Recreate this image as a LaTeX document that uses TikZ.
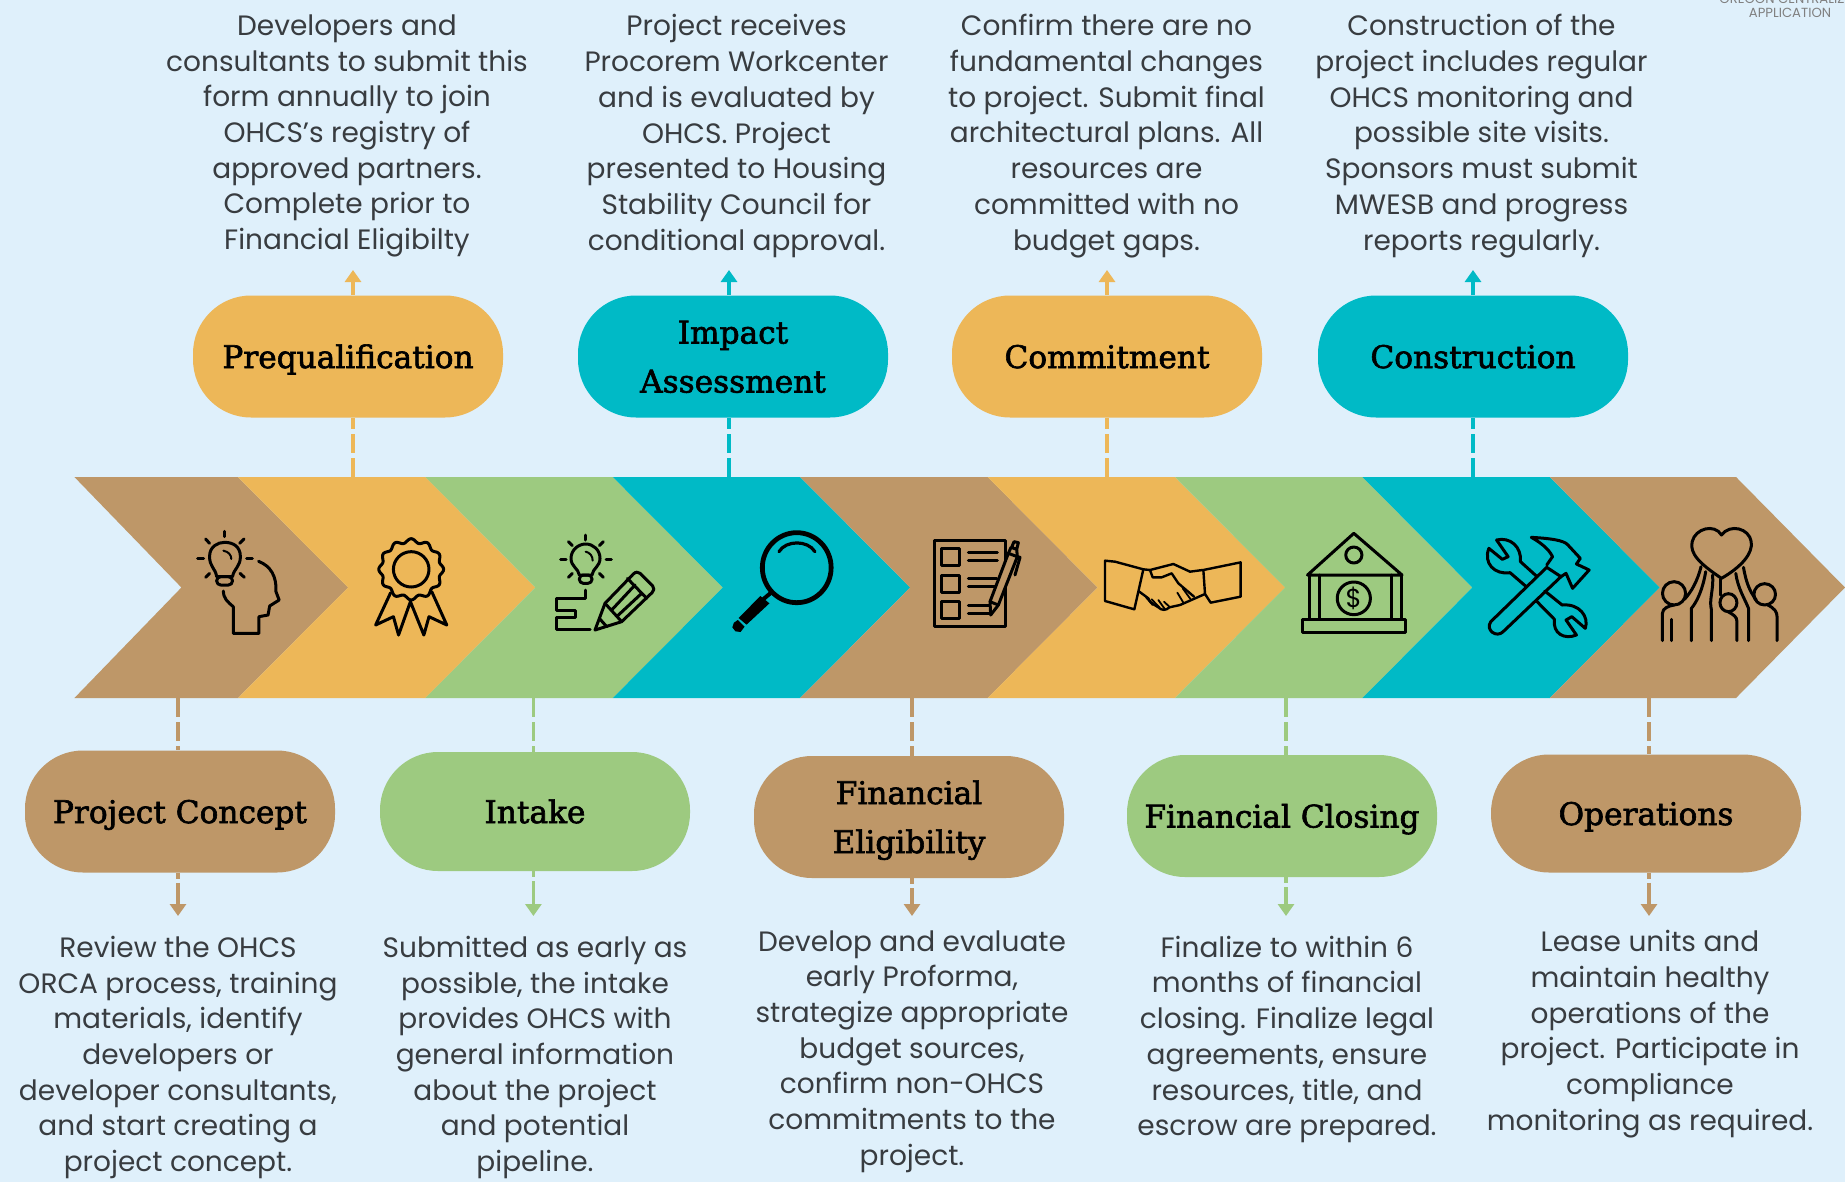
\documentclass[tikz,border=0pt]{standalone}
\usepackage{fontspec}
\setmainfont{Poppins}
\newfontfamily\pillfont[FakeBold=2]{DejaVu Serif}
\newcommand\pl[1]{\rule{0pt}{15pt}\vphantom{g}#1}
\definecolor{bgc}{HTML}{DFF0FB}
\definecolor{brownc}{HTML}{BE9768}
\definecolor{orangec}{HTML}{EDB758}
\definecolor{greenc}{HTML}{9DCA80}
\definecolor{tealc}{HTML}{00BAC6}
\definecolor{bodyc}{HTML}{383C40}
\usetikzlibrary{arrows.meta}
\tikzset{
 pill/.style={rectangle,rounded corners=29pt,minimum width=155pt,minimum height=#1,inner sep=0pt,align=center,text=black,
   font=\pillfont\fontsize{15.6}{24.5}\selectfont},
 pill/.default=61pt,
 bodytext/.style={align=center,text=bodyc,inner sep=0pt,font=\fontsize{14}{17.85}\selectfont},
 dashlink/.style={draw=#1,line width=1.8pt,dash pattern=on 9.5pt off 2.6pt},
 arrowlink/.style={draw=#1,line width=1.8pt,dash pattern=on 13pt off 2pt,-{Triangle[width=8pt,length=6pt]}},
 ic/.style={line width=1.5pt,draw=black,line cap=round,line join=round,fill=none},
 zA/.style={shift={(#1,460)},x=0.1977pt,y=-0.16667pt},
 zB/.style={shift={(1240,460)},x=0.1929pt,y=-0.16667pt},
 zC/.style={shift={#1},x=0.16667pt,y=-0.16667pt},
}
\begin{document}
\begin{tikzpicture}[x=0.5pt,y=-0.5pt]
\useasboundingbox (0,0) rectangle (1845,1182);
\clip (0,0) rectangle (1845,1182);
\fill[bgc] (0,0) rectangle (1845,1182);

% chevrons
\def\T{477}\def\B{698}\def\M{587.5}
\foreach \a/\b/\c in {74.4/238/brownc,238/425.4/orangec,425.4/612.8/greenc,612.8/800.2/tealc,800.2/987.6/brownc,987.6/1175/orangec,1175/1362.4/greenc,1362.4/1549.8/tealc}{
 \pgfmathsetmacro\an{\a+(\a<100?107:110)}
 \pgfmathsetmacro\bn{\b+110}
 \fill[\c] (\a,\T)--(\b,\T)--(\bn,\M)--(\b,\B)--(\a,\B)--(\an,\M)--cycle;
}
\fill[brownc] (1549.8,\T)--(1736,\T)--(1845,\M)--(1736,\B)--(1549.8,\B)--(1659.8,\M)--cycle;

% pills
\node[pill,fill=orangec] (pre) at (348,356.5) {\pl{Prequalification}};
\node[pill,fill=tealc] (imp) at (733,356.5) {\pl{Impact}\\\pl{Assessment}};
\node[pill,fill=orangec] (com) at (1107,356.5) {\pl{Commitment}};
\node[pill,fill=tealc] (con) at (1473,356.5) {\pl{Construction}};
\node[pill,fill=brownc] (prj) at (180,811.5) {\pl{Project Concept}};
\node[pill=59.5pt,fill=greenc] (int) at (535,811.5) {\pl{Intake}};
\node[pill,fill=brownc] (fin) at (909,817) {\pl{Financial}\\\pl{Eligibility}};
\node[pill,fill=greenc] (clo) at (1282,816) {\pl{Financial Closing}};
\node[pill=59pt,fill=brownc] (ope) at (1646,813.5) {\pl{Operations}};

% text blocks
\node[bodytext] (t1) at (347,136) {Developers and\\consultants to submit this\\form annually to join\\OHCS’s registry of\\approved partners.\\Complete prior to\\Financial Eligibilty};
\node[bodytext] (t2) at (736.5,136) {Project receives\\Procorem Workcenter\\and is evaluated by\\OHCS. Project\\presented to Housing\\Stability Council for\\conditional approval.};
\node[bodytext] (t3) at (1106.5,136) {Confirm there are no\\fundamental changes\\to project. Submit final\\architectural plans. All\\resources are\\committed with no\\budget gaps.};
\node[bodytext] (t4) at (1481.5,136) {Construction of the\\project includes regular\\OHCS monitoring and\\possible site visits.\\Sponsors must submit\\MWESB and progress\\reports regularly.};
\node[bodytext] (b1) at (178,1057.5) {Review the OHCS\\ORCA process, training\\materials, identify\\developers or\\developer consultants,\\and start creating a\\project concept.};
\node[bodytext] (b2) at (535,1057.5) {Submitted as early as\\possible, the intake\\provides OHCS with\\general information\\about the project\\and potential\\pipeline.};
\node[bodytext] (b3) at (912,1051.5) {Develop and evaluate\\early Proforma,\\strategize appropriate\\budget sources,\\confirm non-OHCS\\commitments to the\\project.};
\node[bodytext] (b4) at (1287,1039.5) {Finalize to within 6\\months of financial\\closing. Finalize legal\\agreements, ensure\\resources, title, and\\escrow are prepared.};
\node[bodytext] (b5) at (1650,1034) {Lease units and\\maintain healthy\\operations of the\\project. Participate in\\compliance\\monitoring as required.};
\node[align=center,text=black!50,inner sep=0pt,font=\fontsize{6.6}{7.2}\selectfont] (logo) at (1790,6) {OREGON CENTRALIZED\\APPLICATION};

% connectors
\foreach \n/\px/\c in {pre/353/orangec,imp/729/tealc,com/1107/orangec,con/1473/tealc}{
 \coordinate (c\n) at (\px,\T);
 \coordinate (a\n) at (\px,270);
 \draw[dashlink=\c] (c\n) -- (c\n |- \n.south);
 \draw[draw=\c,line width=1.8pt,-{Triangle[width=8pt,length=6pt]}] (c\n |- \n.north) -- (a\n);
}
\foreach \n/\px/\c in {prj/178/brownc,int/533.4/greenc,fin/912/brownc,clo/1286/greenc,ope/1649/brownc}{
 \coordinate (c\n) at (\px,\B);
 \coordinate (a\n) at (\px,916);
 \draw[dashlink=\c] (c\n) -- (c\n |- \n.north);
 \draw[arrowlink=\c,dash pattern=on 3pt off 2pt on 20pt off 0pt] (c\n |- \n.south) -- (a\n);
}

% icon 1: head with bulb
\begin{scope}[zA=0]
 \draw[ic] (548,350) .. controls (545,325) and (530,320) .. (530,290) .. controls (530,260) and (550,247) .. (568,247) .. controls (590,247) and (608,260) .. (608,290) .. controls (608,320) and (592,325) .. (588,350) -- cycle;
 \draw[ic,rounded corners=2pt] (548,350) rectangle (588,375);
 \draw[ic,line width=1pt] (565,272) .. controls (578,275) and (585,285) .. (585,297);
 \foreach \p/\q in {{(568,214)}/{(568,230)},{(520,237)}/{(530,250)},{(617,237)}/{(606,250)},{(500,294)}/{(515,294)},{(624,294)}/{(638,294)},{(520,352)}/{(530,340)},{(618,352)}/{(607,340)}}
  \draw[ic] \p -- \q;
 \draw[ic] (654,304) .. controls (685,318) and (700,350) .. (698,395) -- (706,420) -- (682,438) -- (678,465) -- (655,470) -- (655,520) -- (590,520) -- (590,440) .. controls (575,425) and (565,415) .. (565,393);
\end{scope}
% icon 2: award
\begin{scope}[zA=0]
 \draw[ic] plot[domain=0:360,samples=145,smooth] ({1040+(78+4*cos(12*\x))*cos(\x)},{328+(86+6*cos(12*\x))*sin(\x)});
 \draw[ic] (1040,328) ellipse [x radius=45,y radius=53];
 \draw[ic] (988,398)--(950,495)--(995,470)--(1008,525)--(1038,425)--(1072,525)--(1085,470)--(1130,495)--(1092,395);
\end{scope}
% icon 3: idea + pencil
\begin{scope}[zC={(540,530)}]
 \draw[ic] (118,135) .. controls (115,115) and (93,110) .. (93,85) .. controls (93,60) and (115,42) .. (137,42) .. controls (160,42) and (180,60) .. (180,85) .. controls (180,110) and (158,115) .. (156,135) -- cycle;
 \draw[ic,rounded corners=2pt] (118,135) rectangle (156,160);
 \draw[ic,line width=1pt] (137,65) .. controls (150,68) and (158,78) .. (158,92);
 \foreach \p/\q in {{(137,15)}/{(137,30)},{(85,35)}/{(97,47)},{(190,35)}/{(178,47)},{(62,88)}/{(78,88)},{(198,88)}/{(214,88)},{(85,142)}/{(97,130)},{(190,142)}/{(178,130)}}
  \draw[ic] \p -- \q;
 \draw[ic] (137,180)--(137,205)--(50,205)--(50,240)--(105,240)--(105,262)--(50,262)--(50,297)--(150,297);
 \draw[ic] (165,300)--(195,220)--(280,132) .. controls (287,125) and (295,125) .. (300,130) -- (338,168) .. controls (343,175) and (343,182) .. (336,188) -- (245,275) -- cycle;
 \draw[ic] (195,220)--(245,275) (215,240)--(285,165) (232,258)--(305,190) (262,145)--(320,205) (178,265)--(200,290);
\end{scope}
% icon 4: magnifier
\begin{scope}[zA=620]
 \draw[ic,line width=2.4pt] (447,323) ellipse [x radius=87,y radius=105];
 \draw[ic,line width=1.6pt] (402,275) .. controls (420,240) and (475,240) .. (493,275);
 \draw[ic,line width=2pt] (380,400)--(362,418);
 \fill[black] (355,408)--(378,430)--(320,494)--(300,474)--cycle;
 \fill[black] (288,488)--(298,480)--(315,500)--(305,516)--(292,514)--(284,502)--cycle;
\end{scope}
% icon 5: checklist
\begin{scope}[zC={(900,520)}]
 \draw[ic] (102,60) rectangle (315,318);
 \foreach \y in {85,165,243} \draw[ic] (125,\y) rectangle (178,\y+52);
 \draw[ic] (205,97)--(292,97) (205,122)--(292,122) (205,175)--(290,175) (205,200)--(285,200) (205,255)--(270,255) (205,280)--(270,280);
 \draw[ic,fill=brownc] (270,245)--(325,100)--(352,110)--(295,255)--(272,285)--cycle;
 \draw[ic] (270,245)--(295,255) (325,100)--(333,82)--(350,88)--(352,110) (335,82)--(342,65)--(355,68)--(350,88) (352,110)--(360,112)--(345,165);
\end{scope}
% icon 6: handshake
\begin{scope}[zC={(1090,520)}]
 \draw[ic,line width=1.2pt] (45,122)--(75,125)--(160,148)--(133,268)--(45,243)--cycle;
 \draw[ic,line width=1.2pt] (340,150)--(452,127)--(452,230)--(362,248)--(345,222)--cycle;
 \draw[ic,line width=1.2pt] (160,148)--(180,150)--(250,132)--(300,155)--(338,150);
 \draw[ic,line width=1.2pt] (180,150)--(188,172)--(215,172)--(245,160)--(265,190)--(312,230);
 \draw[ic,line width=1.2pt] (148,215)--(175,235) .. controls (180,250) and (195,255) .. (205,262) .. controls (215,272) and (228,272) .. (238,262) -- (270,255)--(345,222);
 \draw[ic,line width=.9pt] (168,232)--(188,255) (185,238)--(208,262) (205,240)--(225,268) (222,245)--(240,262) (262,218)--(280,248) (278,205)--(302,238);
\end{scope}
% icon 7: bank
\begin{scope}[zB]
 \draw[ic] (175,345)--(295,220)--(420,345)--cycle;
 \draw[ic] (295,285) ellipse [x radius=21,y radius=24];
 \draw[ic] (180,345)--(180,475) (205,345)--(205,475) (392,345)--(392,475) (418,345)--(418,475);
 \draw[ic] (163,478) rectangle (430,518);
 \draw[ic] (295,415) ellipse [x radius=43,y radius=49];
 \node[inner sep=0pt,font=\fontsize{13}{13}\selectfont] (dollar) at (295,415) {\$};
\end{scope}
% icon 8: tools
\begin{scope}[zB]
 \draw[ic] (665,240) .. controls (700,230) and (730,260) .. (727,305) -- (770,350);
 \draw[ic] (742,380) -- (700,338) .. controls (660,345) and (630,310) .. (645,265) -- (680,298) -- (695,290) -- (665,240);
 \draw[ic] (790,393) -- (835,435) .. controls (880,430) and (905,470) .. (895,505) -- (860,470) -- (845,480) -- (872,525) .. controls (840,540) and (810,520) .. (815,478) -- (770,425);
 \draw[ic] (795,322) -- (650,485) .. controls (635,510) and (665,535) .. (682,515) -- (832,350) -- cycle;
 \draw[ic] (795,315) -- (810,290) .. controls (800,265) and (775,245) .. (755,232) .. controls (800,235) and (840,240) .. (850,255) -- (882,295) -- (872,312) -- (905,330) -- (862,385) -- (845,340) -- (832,350);
\end{scope}
% icon 9: people and heart
\begin{scope}[zB]
 \draw[ic] (1248,355) .. controls (1190,310) and (1165,280) .. (1172,245) .. controls (1180,205) and (1230,190) .. (1248,225) .. controls (1270,190) and (1320,205) .. (1325,245) .. controls (1330,280) and (1300,320) .. (1248,355);
 \draw[ic] (1125,400) ellipse [x radius=30,y radius=35];
 \draw[ic] (1360,403) ellipse [x radius=28,y radius=32];
 \draw[ic] (1266,428) ellipse [x radius=22,y radius=27];
 \draw[ic] (1195,320) .. controls (1185,365) and (1170,395) .. (1152,418);
 \draw[ic] (1207,335) .. controls (1200,385) and (1185,425) .. (1170,445) -- (1170,542);
 \draw[ic] (1225,345) .. controls (1228,390) and (1215,420) .. (1222,450) -- (1222,542);
 \draw[ic] (1245,358) -- (1245,405);
 \draw[ic] (1285,340) .. controls (1290,385) and (1310,420) .. (1318,445) -- (1318,542);
 \draw[ic] (1305,322) .. controls (1312,370) and (1322,395) .. (1338,420);
 \draw[ic] (1095,542) -- (1095,460) .. controls (1095,445) and (1110,438) .. (1125,435);
 \draw[ic] (1118,478) -- (1118,542);
 \draw[ic] (1368,435) .. controls (1385,445) and (1392,455) .. (1392,470) -- (1392,542);
 \draw[ic] (1265,455) .. controls (1280,465) and (1288,470) .. (1288,485) -- (1288,542);
\end{scope}
\end{tikzpicture}
\end{document}
